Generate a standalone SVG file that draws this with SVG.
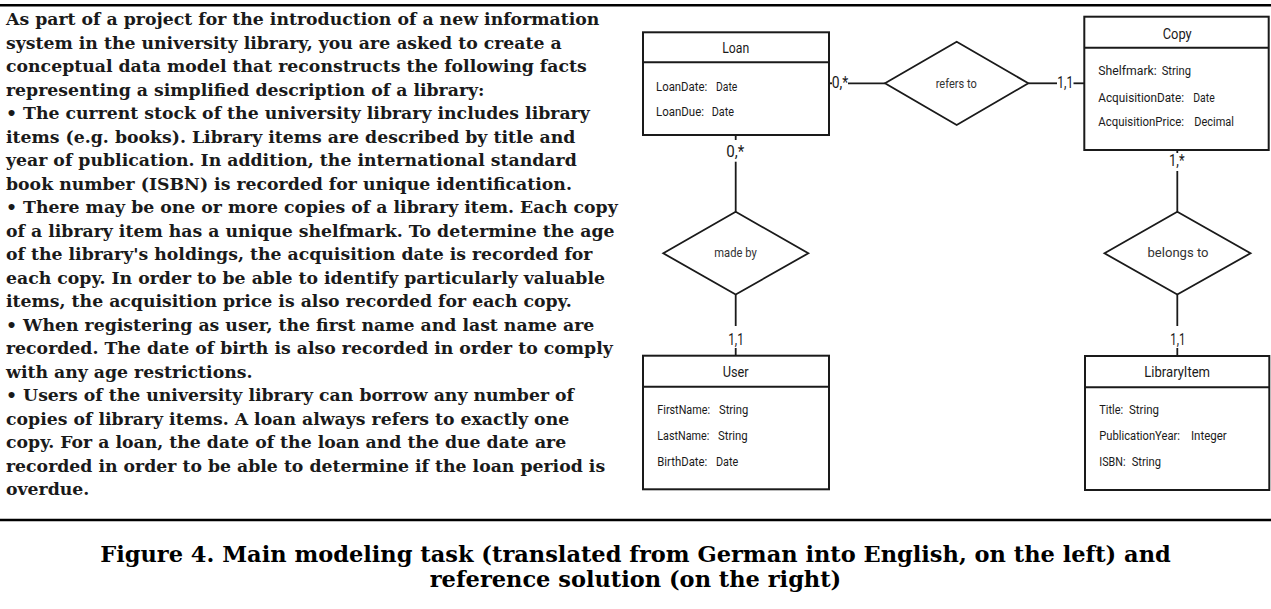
<svg xmlns="http://www.w3.org/2000/svg" width="1271" height="609" viewBox="0 0 1271 609">
<style>
.bg{fill:#fff}
.rule{stroke:#000;stroke-width:2.6}
.box{fill:#fff;stroke:#1a1a1a;stroke-width:2}
.sep{stroke:#1a1a1a;stroke-width:2}
.dia{fill:#fff;stroke:#1a1a1a;stroke-width:1.8}
.con{stroke:#1a1a1a;stroke-width:1.8;fill:none}
.task{font-family:"DejaVu Serif","Liberation Serif",serif;font-weight:bold;font-size:17.3px;fill:#1a1a1a}
.cap{font-family:"DejaVu Serif","Liberation Serif",serif;font-weight:bold;font-size:22.5px;fill:#000;text-anchor:middle}
.hdr{font-family:Roboto,"Liberation Sans",sans-serif;font-size:15px;fill:#1a1a1a;text-anchor:middle}
.att{font-family:Roboto,"Liberation Sans",sans-serif;font-size:12.5px;fill:#1a1a1a}
.rel{font-family:Roboto,"Liberation Sans",sans-serif;font-size:13px;fill:#333;text-anchor:middle}
.card{font-family:Roboto,"Liberation Sans",sans-serif;font-size:16px;fill:#1a1a1a;text-anchor:middle}
</style>
<rect class="bg" x="0" y="0" width="1271" height="609"/>
<line class="rule" x1="0" y1="5.3" x2="1271" y2="5.3"/>
<line class="rule" x1="0" y1="520" x2="1271" y2="520"/>

<g id="task-text">
<text class="task" x="6" y="25">
<tspan x="6" y="25">As part of a project for the introduction of a new information</tspan>
<tspan x="6" dy="23.5">system in the university library, you are asked to create a</tspan>
<tspan x="6" dy="23.5">conceptual data model that reconstructs the following facts</tspan>
<tspan x="6" dy="23.5">representing a simplified description of a library:</tspan>
<tspan x="6" dy="23.5">• The current stock of the university library includes library</tspan>
<tspan x="6" dy="23.5">items (e.g. books). Library items are described by title and</tspan>
<tspan x="6" dy="23.5">year of publication. In addition, the international standard</tspan>
<tspan x="6" dy="23.5">book number (ISBN) is recorded for unique identification.</tspan>
<tspan x="6" dy="23.5">• There may be one or more copies of a library item. Each copy</tspan>
<tspan x="6" dy="23.5">of a library item has a unique shelfmark. To determine the age</tspan>
<tspan x="6" dy="23.5">of the library's holdings, the acquisition date is recorded for</tspan>
<tspan x="6" dy="23.5">each copy. In order to be able to identify particularly valuable</tspan>
<tspan x="6" dy="23.5">items, the acquisition price is also recorded for each copy.</tspan>
<tspan x="6" dy="23.5">• When registering as user, the first name and last name are</tspan>
<tspan x="6" dy="23.5">recorded. The date of birth is also recorded in order to comply</tspan>
<tspan x="6" dy="23.5">with any age restrictions.</tspan>
<tspan x="6" dy="23.5">• Users of the university library can borrow any number of</tspan>
<tspan x="6" dy="23.5">copies of library items. A loan always refers to exactly one</tspan>
<tspan x="6" dy="23.5">copy. For a loan, the date of the loan and the due date are</tspan>
<tspan x="6" dy="23.5">recorded in order to be able to determine if the loan period is</tspan>
<tspan x="6" dy="23.5">overdue.</tspan>
</text>
</g>

<g id="connectors">
<line class="con" x1="829" y1="83.3" x2="832" y2="83.3"/>
<line class="con" x1="848" y1="83.3" x2="885" y2="83.3"/>
<line class="con" x1="1028.3" y1="83.3" x2="1057" y2="83.3"/>
<line class="con" x1="1073.5" y1="83.3" x2="1084.3" y2="83.3"/>
<line class="con" x1="735.7" y1="135" x2="735.7" y2="140"/>
<line class="con" x1="735.7" y1="161.7" x2="735.7" y2="211.7"/>
<line class="con" x1="735.7" y1="294.5" x2="735.7" y2="326"/>
<line class="con" x1="735.7" y1="348" x2="735.7" y2="355.7"/>
<line class="con" x1="1177.3" y1="150" x2="1177.3" y2="153"/>
<line class="con" x1="1177.3" y1="171" x2="1177.3" y2="211.7"/>
<line class="con" x1="1177.3" y1="294.5" x2="1177.3" y2="326"/>
<line class="con" x1="1177.3" y1="348" x2="1177.3" y2="356"/>
<text class="card" x="840" y="88.3" textLength="16.5" lengthAdjust="spacingAndGlyphs">0,*</text>
<text class="card" x="1065.3" y="88" textLength="16" lengthAdjust="spacingAndGlyphs">1,1</text>
<text class="card" x="735.3" y="157" textLength="18" lengthAdjust="spacingAndGlyphs">0,*</text>
<text class="card" x="1176.8" y="166" textLength="15.5" lengthAdjust="spacingAndGlyphs">1,*</text>
<text class="card" x="736" y="344.5" textLength="15.7" lengthAdjust="spacingAndGlyphs">1,1</text>
<text class="card" x="1177.8" y="344.5" textLength="15" lengthAdjust="spacingAndGlyphs">1,1</text>
</g>

<g id="loan">
<rect class="box" x="643" y="32.3" width="186" height="102.7"/>
<line class="sep" x1="643" y1="62.3" x2="829" y2="62.3"/>
<text class="hdr" x="735.7" y="53" textLength="27" lengthAdjust="spacingAndGlyphs">Loan</text>
<text class="att" x="656" y="90.5" textLength="51.3" lengthAdjust="spacingAndGlyphs">LoanDate:</text>
<text class="att" x="716" y="90.5" textLength="21.3" lengthAdjust="spacingAndGlyphs">Date</text>
<text class="att" x="656" y="115.5" textLength="48" lengthAdjust="spacingAndGlyphs">LoanDue:</text>
<text class="att" x="711.7" y="115.5" textLength="22.3" lengthAdjust="spacingAndGlyphs">Date</text>
</g>

<g id="copy">
<rect class="box" x="1084.3" y="16.7" width="184.4" height="133.3"/>
<line class="sep" x1="1084.3" y1="47.7" x2="1268.7" y2="47.7"/>
<text class="hdr" x="1177.2" y="38.5" textLength="29" lengthAdjust="spacingAndGlyphs">Copy</text>
<text class="att" x="1098.3" y="75" textLength="58.4" lengthAdjust="spacingAndGlyphs">Shelfmark:</text>
<text class="att" x="1161.7" y="75" textLength="29.3" lengthAdjust="spacingAndGlyphs">String</text>
<text class="att" x="1098.3" y="101.5" textLength="85.7" lengthAdjust="spacingAndGlyphs">AcquisitionDate:</text>
<text class="att" x="1193.3" y="101.5" textLength="21.4" lengthAdjust="spacingAndGlyphs">Date</text>
<text class="att" x="1098.3" y="126" textLength="85.7" lengthAdjust="spacingAndGlyphs">AcquisitionPrice:</text>
<text class="att" x="1194.3" y="126" textLength="39.7" lengthAdjust="spacingAndGlyphs">Decimal</text>
</g>

<g id="refers-to">
<polygon class="dia" points="885,83.3 956.7,41.7 1028.3,83.3 956.7,125"/>
<text class="rel" x="956.2" y="87.5" textLength="41" lengthAdjust="spacingAndGlyphs">refers to</text>
</g>

<g id="made-by">
<polygon class="dia" points="663.3,253.3 735.7,211.7 808.3,253.3 735.7,294.5"/>
<text class="rel" x="735.5" y="257.3" textLength="42.4" lengthAdjust="spacingAndGlyphs">made by</text>
</g>

<g id="belongs-to">
<polygon class="dia" points="1104.5,253.3 1177.3,211.7 1250.5,253.3 1177.3,294.5"/>
<text class="rel" x="1178" y="257.3" textLength="61" lengthAdjust="spacingAndGlyphs">belongs to</text>
</g>

<g id="user">
<rect class="box" x="643" y="355.7" width="186" height="133.6"/>
<line class="sep" x1="643" y1="386.7" x2="829" y2="386.7"/>
<text class="hdr" x="735.7" y="376.5" textLength="26" lengthAdjust="spacingAndGlyphs">User</text>
<text class="att" x="657.3" y="414" textLength="52.7" lengthAdjust="spacingAndGlyphs">FirstName:</text>
<text class="att" x="719" y="414" textLength="29.3" lengthAdjust="spacingAndGlyphs">String</text>
<text class="att" x="657.3" y="440" textLength="52" lengthAdjust="spacingAndGlyphs">LastName:</text>
<text class="att" x="718" y="440" textLength="29.7" lengthAdjust="spacingAndGlyphs">String</text>
<text class="att" x="657.3" y="465.5" textLength="50" lengthAdjust="spacingAndGlyphs">BirthDate:</text>
<text class="att" x="716" y="465.5" textLength="22.3" lengthAdjust="spacingAndGlyphs">Date</text>
</g>

<g id="library-item">
<rect class="box" x="1085" y="356" width="184.3" height="134"/>
<line class="sep" x1="1085" y1="387.3" x2="1269.3" y2="387.3"/>
<text class="hdr" x="1177.2" y="376.5" textLength="65.7" lengthAdjust="spacingAndGlyphs">LibraryItem</text>
<text class="att" x="1099.3" y="414" textLength="24" lengthAdjust="spacingAndGlyphs">Title:</text>
<text class="att" x="1129" y="414" textLength="30" lengthAdjust="spacingAndGlyphs">String</text>
<text class="att" x="1099.3" y="440" textLength="80.7" lengthAdjust="spacingAndGlyphs">PublicationYear:</text>
<text class="att" x="1191" y="440" textLength="35.7" lengthAdjust="spacingAndGlyphs">Integer</text>
<text class="att" x="1099.3" y="465.5" textLength="26.3" lengthAdjust="spacingAndGlyphs">ISBN:</text>
<text class="att" x="1131.7" y="465.5" textLength="29.3" lengthAdjust="spacingAndGlyphs">String</text>
</g>

<g id="caption">
<text class="cap" x="635.5" y="562">Figure 4. Main modeling task (translated from German into English, on the left) and</text>
<text class="cap" x="635.5" y="587">reference solution (on the right)</text>
</g>
</svg>
